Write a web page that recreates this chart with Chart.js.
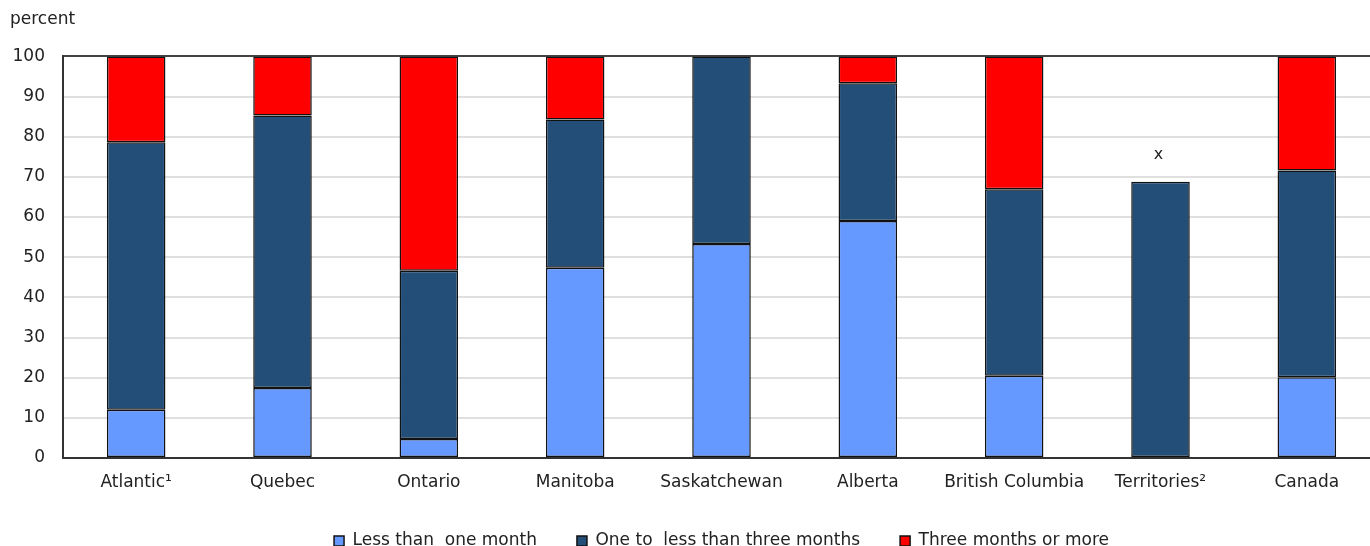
<!DOCTYPE html>
<html>
<head>
<meta charset="utf-8">
<script src="https://cdn.jsdelivr.net/npm/chart.js@4"></script>
<style>
  html, body { margin: 0; padding: 0; background: #fff; overflow: hidden; }
  canvas { display: block; }
</style>
</head>
<body>
<canvas id="chart" width="1380" height="546"></canvas>
<script>
// categories and series (percent)
const regions = ['Atlantic¹', 'Quebec', 'Ontario', 'Manitoba', 'Saskatchewan', 'Alberta', 'British Columbia', 'Territories²', 'Canada'];
const lessThanOneMonth = [12.0, 17.4, 4.7, 47.4, 53.3, 59.0, 20.5, null, 20.1];
const oneToThreeMonths = [66.6, 67.9, 41.9, 36.9, 46.7, 34.3, 46.4, 68.8, 51.5];
const threeMonthsOrMore = [21.4, 14.7, 53.4, 15.7, 0, 6.7, 33.1, null, 28.4];
// "x" = too unreliable to be published
const notes = [null, null, null, null, null, null, null, 'x', null];
const yTicks = [0, 10, 20, 30, 40, 50, 60, 70, 80, 90, 100];

const font = 'DejaVu Sans, Verdana, sans-serif';

// shrink the legend box so its row sits at the bottom edge
const legendFit = {
    id: 'legendFit',
    beforeInit(chart) {
        const lg = chart.legend;
        const orig = lg.fit;
        lg.fit = function () {
            orig.call(this);
            this.height = 53.5;
        };
    }
};

// note letters above the bars
const noteLabels = {
    id: 'noteLabels',
    afterDatasetsDraw(chart) {
        const ctx = chart.ctx;
        const meta = chart.getDatasetMeta(1);
        ctx.save();
        ctx.font = '16px ' + font;
        ctx.fillStyle = '#222';
        ctx.textAlign = 'center';
        ctx.textBaseline = 'middle';
        notes.forEach((n, i) => {
            if (!n) return;
            const bar = meta.data[i];
            ctx.fillText(n, bar.x - 2, bar.y - 27);
        });
        ctx.restore();
    }
};

new Chart(document.getElementById('chart'), {
    type: 'bar',
    data: {
        labels: regions,
        datasets: [
            { label: 'Less than  one month', data: lessThanOneMonth, backgroundColor: '#6699FF' },
            { label: 'One to  less than three months', data: oneToThreeMonths, backgroundColor: '#224E78' },
            { label: 'Three months or more', data: threeMonthsOrMore, backgroundColor: '#FF0000' }
        ].map(d => Object.assign(d, {
            borderColor: '#111',
            borderWidth: 1.5,
            borderSkipped: false,
            barPercentage: 0.4,
            categoryPercentage: 1
        }))
    },
    options: {
        responsive: false,
        devicePixelRatio: 1,
        animation: false,
        layout: { padding: { left: 10, right: 0, top: 0, bottom: 0 } },
        plugins: {
            title: {
                display: true,
                text: 'percent',
                align: 'start',
                color: '#222',
                font: { family: font, size: 17, weight: 'normal' },
                padding: { top: 9, bottom: 27 }
            },
            legend: {
                position: 'bottom',
                fullSize: false,
                labels: {
                    boxWidth: 10,
                    boxHeight: 10,
                    padding: 40,
                    color: '#222',
                    font: { family: font, size: 17 }
                }
            },
            tooltip: { enabled: false }
        },
        scales: {
            x: {
                stacked: true,
                afterFit: s => { s.height = 34.5; },
                grid: { display: false, drawTicks: false },
                border: { display: true, color: '#333', width: 2 },
                ticks: {
                    color: '#222', padding: 14, maxRotation: 0, minRotation: 0, autoSkip: false,
                    font: { family: font, size: 17 }
                }
            },
            y: {
                stacked: true,
                min: 0,
                max: 100,
                afterBuildTicks: s => { s.ticks = yTicks.map(v => ({ value: v })); },
                afterFit: s => { s.width = 53; },
                grid: {
                    drawTicks: false,
                    lineWidth: 2,
                    color: c => c.tick && c.tick.value === 100 ? '#444' : '#e0e0e0'
                },
                border: { display: true, color: '#333', width: 2 },
                ticks: { color: '#222', padding: 18, font: { family: font, size: 17 } }
            }
        }
    },
    plugins: [legendFit, noteLabels]
});
</script>
</body>
</html>
